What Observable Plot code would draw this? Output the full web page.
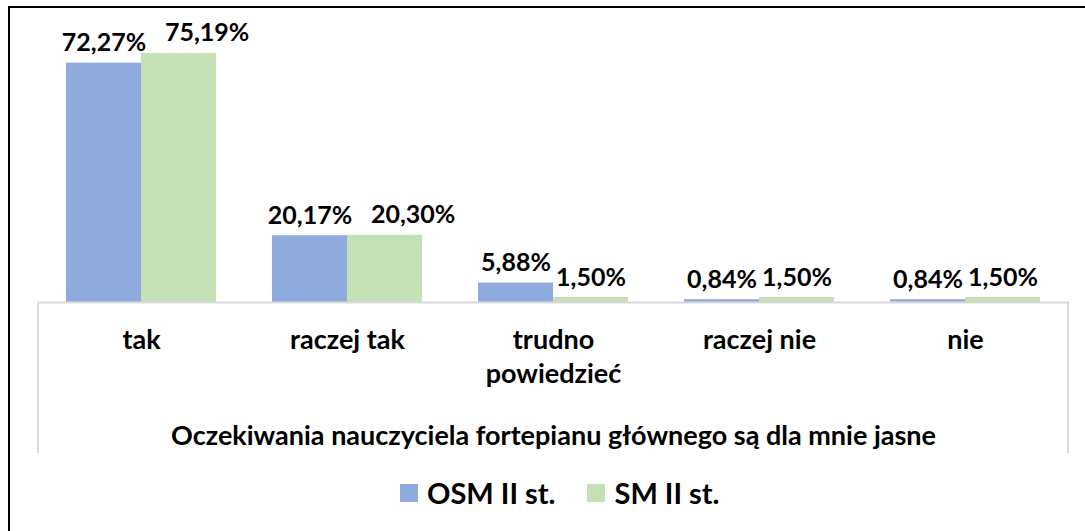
<!DOCTYPE html>
<html>
<head>
<meta charset="utf-8">
<script src="https://cdn.jsdelivr.net/npm/d3@7"></script>
<script src="https://cdn.jsdelivr.net/npm/@observablehq/plot@0.6"></script>
<style>
  html, body { margin: 0; padding: 0; background: #fff; overflow: hidden; width: 1085px; height: 531px; }
  #wrap { position: relative; width: 1085px; height: 531px; font-family: Lato, "Open Sans", sans-serif; }
  #chart { position: absolute; left: 0; top: 0; }
  #frame { position: absolute; left: 8px; top: 6px; width: 1200px; height: 700px; border-top: 2px solid #000; border-left: 2px solid #000; pointer-events: none; }
  #legend { position: absolute; left: 400px; top: 475px; display: flex; align-items: center; font-weight: 700; font-size: 29px; color: #000; white-space: nowrap; }
  #legend .item { display: flex; align-items: center; margin-right: 32px; }
  #legend .sw { width: 18px; height: 18px; margin-right: 9px; }
</style>
</head>
<body>
<div id="wrap">
  <div id="chart"></div>
  <div id="legend"></div>
  <div id="frame"></div>
</div>
<script>
const categories = ["tak", "raczej tak", "trudno powiedzieć", "raczej nie", "nie"];
const categoryLabels = ["tak", "raczej tak", "trudno\npowiedzieć", "raczej nie", "nie"];
const seriesNames = ["OSM II st.", "SM II st."];
const osmValues = [72.27, 20.17, 5.88, 0.84, 0.84];
const smValues = [75.19, 20.30, 1.50, 1.50, 1.50];
const seriesColors = ["#8faadc", "#c5e0b4"];
const axisTitle = "Oczekiwania nauczyciela fortepianu głównego są dla mnie jasne";

const data = [];
categories.forEach((c, i) => {
  data.push({category: c, series: seriesNames[0], value: osmValues[i]});
  data.push({category: c, series: seriesNames[1], value: smValues[i]});
});

const fmt = v => v.toFixed(2).replace(".", ",") + "%";
const labelOf = c => categoryLabels[categories.indexOf(c)];

// labels that would collide with their neighbour are nudged right (as the spreadsheet does)
const shifted = d => d.series === seriesNames[1] && d.value >= 10;

const W = 1085, H = 460;
const mL = 38, mR = 17, mT = 37, mB = 158;

const labelStyle = {fontSize: 25, fontWeight: 700, fill: "#000", lineAnchor: "bottom", dy: -12};

const chart = Plot.plot({
  width: W,
  height: H,
  marginLeft: mL,
  marginRight: mR,
  marginTop: mT,
  marginBottom: mB,
  style: {fontFamily: "Lato, 'Open Sans', sans-serif", background: "#fff", color: "#000"},
  fx: {domain: categories, padding: 0},
  x: {domain: seriesNames, paddingInner: 0, paddingOuter: 0.373, axis: null},
  y: {domain: [0, 80], axis: null},
  color: {domain: seriesNames, range: seriesColors},
  marks: [
    Plot.barY(data, {fx: "category", x: "series", y: "value", fill: "series"}),
    Plot.ruleY([0], {stroke: "#d9d9d9", strokeWidth: 2}),
    Plot.text(data.filter(d => !shifted(d)), {
      fx: "category", x: "series", y: "value",
      text: d => fmt(d.value), ...labelStyle
    }),
    Plot.text(data.filter(shifted), {
      fx: "category", x: "series", y: "value",
      text: d => fmt(d.value), ...labelStyle,
      textAnchor: "start", dx: -14
    }),
    Plot.axisFx({
      anchor: "bottom",
      tickSize: 0,
      tickPadding: 22,
      tickFormat: labelOf,
      fontSize: 27,
      fontWeight: 700,
      lineHeight: 1.26,
      label: axisTitle,
      labelAnchor: "center",
      labelOffset: 142,
      fill: "#000"
    })
  ]
});

document.getElementById("chart").appendChild(chart);

// Category-axis box side lines, positioned from the plot's own scales
const svg = d3.select(chart);
const y0 = chart.scale("y").apply(0);
[mL, W - mR].forEach(xp => {
  svg.append("line")
    .attr("x1", xp).attr("x2", xp)
    .attr("y1", y0).attr("y2", y0 + 151)
    .attr("stroke", "#d9d9d9").attr("stroke-width", 2);
});

// Legend
const legend = document.getElementById("legend");
seriesNames.forEach((s, i) => {
  const item = document.createElement("div");
  item.className = "item";
  const sw = document.createElement("div");
  sw.className = "sw";
  sw.style.background = seriesColors[i];
  const t = document.createElement("span");
  t.textContent = s;
  item.appendChild(sw);
  item.appendChild(t);
  legend.appendChild(item);
});
</script>
</body>
</html>
